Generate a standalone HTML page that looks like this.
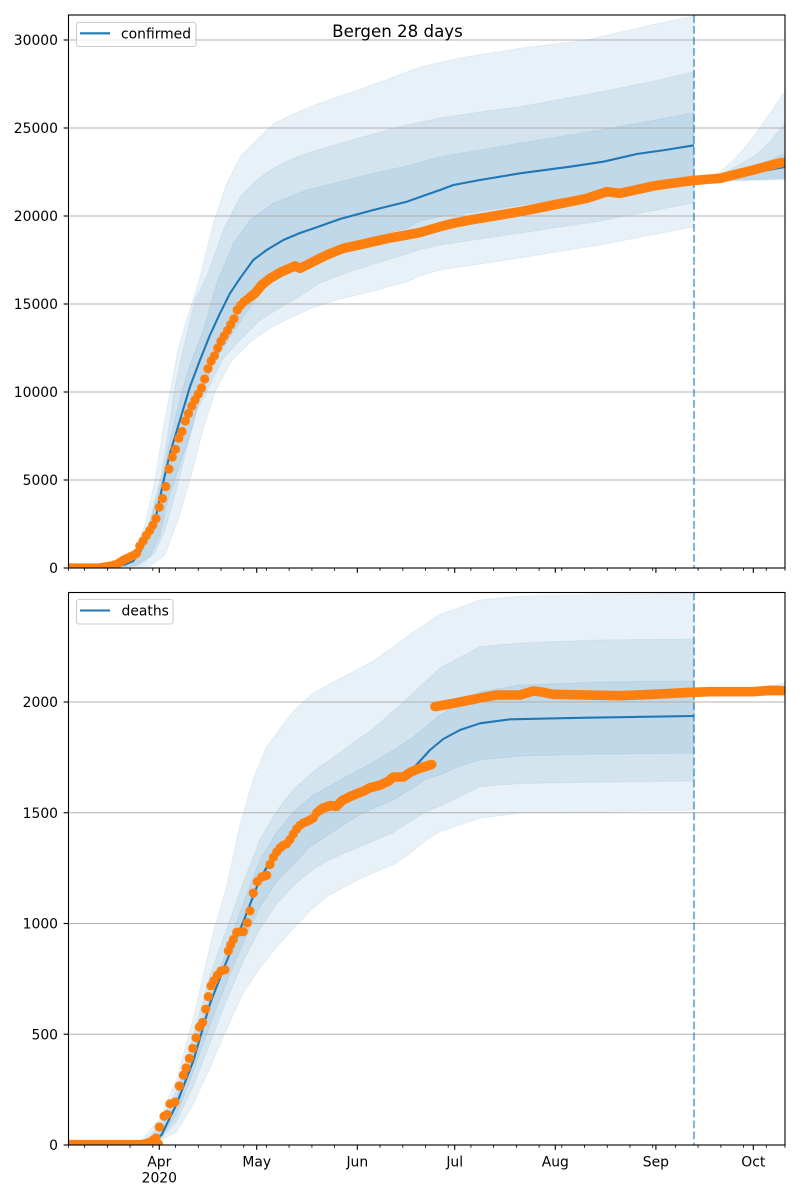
<!DOCTYPE html>
<html><head><meta charset="utf-8"><style>
html,body{margin:0;padding:0;background:#fff;}
svg{display:block;}
text{font-family:"DejaVu Sans","Liberation Sans",sans-serif;fill:#000;}
</style></head><body>
<svg width="800" height="1200" viewBox="0 0 800 1200" xmlns="http://www.w3.org/2000/svg">
<defs>
<clipPath id="ct"><rect x="68.5" y="15" width="716.5" height="553"/></clipPath>
<clipPath id="cb"><rect x="68.5" y="592.5" width="716.5" height="552.5"/></clipPath>
</defs>
<rect width="800" height="1200" fill="#fff"/>

<!-- ================= TOP ================= -->
<g clip-path="url(#ct)">
<g fill="#1f77b4" fill-opacity="0.1" stroke="#1f77b4" stroke-opacity="0.08" stroke-width="1">
<polygon points="100,568 115,566 125,561 135,550 145,525 155,480 163,430 170,392 178,350 185,325 193,300 200,276.7 213.3,223.3 226.7,183.3 240,156.7 256.7,140 273.3,124 290,115.5 313.3,105.5 340,96 356.7,90.5 380,82 420,67 460,58 520,48.3 586.7,40 653.3,24.5 694,16 694,226.7 600,245 500,261 440,270 420,276 406.7,282 373,291 340,299 312,308 292,317 272,327 253,340 232,360 215,392 203,430 190,480 178,520 165,555 150,566 110,568"/>
<polygon points="100,568 120,566 130,561 140,548 150,520 160,480 167,440 174,392 183,350 195,300 206.7,276.7 223.3,230 240,196.7 256.7,180 273.3,168.3 290,160 306.7,153.3 340,143.3 373.3,134 406.7,125 440,118 480,112 520,106.7 600,92 650,82 694,71.7 694,202.7 600,221 500,236 440,245 420,249.5 406.7,254 373.3,264 340,275 320,283 300,296 280,308 260,320 240,340 222,360 206.7,392 197,410 185,455 175,495 165,530 155,553 140,565 105,568"/>
<polygon points="100,568 125,565 135,558 145,540 155,505 162,480 170,440 181.7,392 190,365 203.3,330 216.7,283.3 233.3,243.3 250,220 273.3,203.3 306.7,190 340,181.7 373.3,173.3 406.7,166 440,157 480,150 520,143 600,130 650,121 694,112.7 694,175 600,193 500,208 440,216.7 420,221 406.7,228.3 373.3,236.7 340,246.7 306.7,258.3 290,266.7 273.3,278.3 256.7,296.7 252,304 240,322 228,340 215,360 201.7,392 190,435 178,470 168,500 160,535 150,556 135,566 100,568"/>
<polygon points="694,181 706.7,177 720,172 736.7,157 753.3,137 770,113 785,91 785,179.5 694,182"/>
<polygon points="694,181 720,175 753.3,157 770,142 785,123 785,179 694,181.5"/>
<polygon points="694,181 736.7,173.3 760,165 785,153 785,177.5 694,181.3"/>
</g>
<g stroke="#b0b0b0" stroke-width="1.1">
<line x1="68.5" x2="785" y1="40" y2="40"/>
<line x1="68.5" x2="785" y1="128" y2="128"/>
<line x1="68.5" x2="785" y1="216" y2="216"/>
<line x1="68.5" x2="785" y1="304" y2="304"/>
<line x1="68.5" x2="785" y1="392" y2="392"/>
<line x1="68.5" x2="785" y1="480" y2="480"/>
</g>
<polyline fill="none" stroke="#1f77b4" stroke-width="2.08" stroke-linejoin="round" points="68.5,568 100,567.8 115,566.5 125,564.5 133.3,561 140,552 148,535 156.7,513.3 163.3,482 170,453.3 180,420 190,386.7 200,360 210,335 220,313.3 230,293.3 240,278.3 253.3,260 266.7,250 283.3,240 300,233 313.3,228.5 340,219 373.3,210 406.7,201.7 420,197 440,190 453.3,185 480,180 520,173.3 570,166.7 603.3,161.7 636.7,154 665,150 694,145.3"/>
<polyline fill="none" stroke="#1f77b4" stroke-width="2.08" points="694,181 740,175 785,167"/>
<line x1="694" x2="694" y1="15" y2="568" stroke="#1f77b4" stroke-opacity="0.55" stroke-width="2.08" stroke-dasharray="7.7 3.3"/>
<g fill="#ff7f0e">
<polyline fill="none" stroke="#ff7f0e" stroke-width="9.2" stroke-linecap="round" stroke-linejoin="round" points="60,568 100,567.8 107.4,566.5 110.6,566"/>
<circle cx="113.9" cy="565" r="4.6"/><circle cx="117.1" cy="564" r="4.6"/><circle cx="120.4" cy="562" r="4.6"/><circle cx="123.6" cy="560" r="4.6"/><circle cx="126.8" cy="558.5" r="4.6"/><circle cx="130.1" cy="557" r="4.6"/><circle cx="133.3" cy="555.5" r="4.6"/><circle cx="136.6" cy="553.3" r="4.6"/><circle cx="139.8" cy="546" r="4.6"/><circle cx="143.1" cy="541" r="4.6"/><circle cx="146.3" cy="535.5" r="4.6"/><circle cx="149.6" cy="530.5" r="4.6"/><circle cx="152.8" cy="525.3" r="4.6"/><circle cx="156.1" cy="518.5" r="4.6"/><circle cx="159.3" cy="507.3" r="4.6"/><circle cx="162.5" cy="498.5" r="4.6"/><circle cx="165.8" cy="486.5" r="4.6"/><circle cx="169" cy="469" r="4.6"/><circle cx="172.3" cy="457" r="4.6"/><circle cx="175.5" cy="449.3" r="4.6"/><circle cx="178.8" cy="438.3" r="4.6"/><circle cx="182" cy="431.5" r="4.6"/><circle cx="185.3" cy="421" r="4.6"/><circle cx="188.5" cy="413.5" r="4.6"/><circle cx="191.8" cy="406" r="4.6"/><circle cx="195" cy="400" r="4.6"/><circle cx="198.3" cy="394" r="4.6"/><circle cx="201.5" cy="388" r="4.6"/><circle cx="204.7" cy="379" r="4.6"/><circle cx="208" cy="368.6" r="4.6"/><circle cx="211.2" cy="361" r="4.6"/><circle cx="214.5" cy="355.8" r="4.6"/><circle cx="217.7" cy="348" r="4.6"/><circle cx="221" cy="341.4" r="4.6"/><circle cx="224.2" cy="336" r="4.6"/><circle cx="227.5" cy="330.5" r="4.6"/><circle cx="230.7" cy="324.6" r="4.6"/><circle cx="234" cy="318.8" r="4.6"/><circle cx="237.2" cy="310" r="4.6"/><circle cx="240.5" cy="305.5" r="4.6"/><circle cx="243.7" cy="302" r="4.6"/><circle cx="246.9" cy="299.5" r="4.6"/><circle cx="250.2" cy="297" r="4.6"/>
<polyline fill="none" stroke="#ff7f0e" stroke-width="9.6" stroke-linecap="round" stroke-linejoin="round" points="250.2,297 255,293.3 261.7,285 270,278.3 281.7,271.7 295,266 300,268.3 313.3,261.7 326.7,255 343.3,248.3 363.3,244 373.3,241.7 390,238 406.7,235 420,232.5 440,226.7 453.3,223.3 470,220 486.7,217.3 503,214.5 520,211.7 536,208.5 553.3,205 570,201.8 586.7,198.3 600,194 606.7,191.7 613,192.5 620,193.3 636,189.8 653.3,186 672,183.3 691.7,180.7 705,179.5 720,178.3 737,174 753.3,170 766,166.5 778.3,163.3 782,162.5"/>
</g>
</g>
<!-- top spines / ticks -->
<g stroke="#000" stroke-width="1.1" fill="none">
<rect x="68.5" y="15" width="716.5" height="553"/>
<line x1="63.6" x2="68.5" y1="568" y2="568"/>
<line x1="63.6" x2="68.5" y1="480" y2="480"/>
<line x1="63.6" x2="68.5" y1="392" y2="392"/>
<line x1="63.6" x2="68.5" y1="304" y2="304"/>
<line x1="63.6" x2="68.5" y1="216" y2="216"/>
<line x1="63.6" x2="68.5" y1="128" y2="128"/>
<line x1="63.6" x2="68.5" y1="40" y2="40"/>
<path d="M159.3 568v4.9M256.7 568v4.9M357.3 568v4.9M454.7 568v4.9M555.3 568v4.9M655.9 568v4.9M753.3 568v4.9"/>
<path stroke-width="0.85" d="M68.5 568v2.8M84.6 568v2.8M107.4 568v2.8M130.1 568v2.8M152.8 568v2.8M175.5 568v2.8M198.3 568v2.8M221 568v2.8M243.7 568v2.8M266.4 568v2.8M289.1 568v2.8M311.9 568v2.8M334.6 568v2.8M380 568v2.8M402.8 568v2.8M425.5 568v2.8M448.2 568v2.8M470.9 568v2.8M493.6 568v2.8M516.4 568v2.8M539.1 568v2.8M561.8 568v2.8M584.5 568v2.8M607.3 568v2.8M630 568v2.8M652.7 568v2.8M675.4 568v2.8M698.1 568v2.8M720.9 568v2.8M743.6 568v2.8M766.3 568v2.8M785 568v2.8"/>
</g>
<g font-size="13.9" text-anchor="end">
<text x="58" y="573">0</text>
<text x="58" y="485">5000</text>
<text x="58" y="397">10000</text>
<text x="58" y="309">15000</text>
<text x="58" y="221">20000</text>
<text x="58" y="133">25000</text>
<text x="58" y="45">30000</text>
</g>
<!-- top legend -->
<rect x="76.5" y="22.5" width="119.5" height="24" rx="2.5" fill="#fff" fill-opacity="0.8" stroke="#cccccc" stroke-width="1.1"/>
<line x1="80" x2="110" y1="33.3" y2="33.3" stroke="#1f77b4" stroke-width="2.08"/>
<text x="121" y="38.3" font-size="13.9">confirmed</text>
<text x="397.5" y="37" font-size="16.67" text-anchor="middle">Bergen 28 days</text>

<!-- ================= BOTTOM ================= -->
<g clip-path="url(#cb)">
<g fill="#1f77b4" fill-opacity="0.1" stroke="#1f77b4" stroke-opacity="0.08" stroke-width="1">
<polygon points="68.5,1145 120,1145 140,1142.5 160,1118 176.7,1078.8 193.3,1018 203.3,975 213.3,932 226.7,886 240,825 253.3,778.8 266.7,746.6 280,728.8 293.3,711 313.3,693 333.3,682 353.3,671.6 373.3,661 393.3,646.6 413.3,632 440,614.5 480,600 520,596 600,594.5 694,593.3 694,810.3 600,811.5 520,813 480,818.3 440,831.7 426.7,839.5 410,853.8 393.3,864.5 376.7,871.6 360,878.8 343.3,887.7 326.7,896.6 310,911 293.3,928.8 276.7,946.6 260,968 243.3,993 226.7,1028.8 210,1068 193.3,1103.8 176.7,1132 160,1141 140,1145"/>
<polygon points="125,1145 145,1141 160,1125 176.7,1089.5 193.3,1036 210,975 226.7,928.8 243.3,882.4 260,839.5 276.7,811 293.3,789.5 313.3,771.6 333.3,757.4 353.3,743 373.3,728.8 393.3,711 413.3,693 440,668 480,646.7 520,643 600,640 694,639 694,781 600,782 520,783.5 480,786.7 440,806 426.7,811 410,821.6 393.3,832.4 376.7,839.5 360,846.6 343.3,853.8 326.7,861 310,871.6 293.3,886 276.7,903.8 260,928.8 243.3,961 226.7,1000 210,1043 193.3,1086 176.7,1121.6 160,1139.5 150,1144 135,1145"/>
<polygon points="130,1145 148,1141 160,1132 176.7,1096.6 193.3,1050 210,997 226.7,950 243.3,903 260,860 276.7,832 293.3,812 313.3,795 333.3,784 353.3,773 373.3,762 393.3,750 413.3,737 440,715 480,691.7 520,685 600,682 694,681 694,753.3 600,754 520,756 480,760 460,766 440,775 426.7,779 410,789.5 393.3,800 376.7,807 360,814.5 343.3,825 326.7,836 310,846.6 293.3,864.5 276.7,882 260,907 243.3,943 226.7,982 210,1025 193.3,1071.6 176.7,1114.5 160,1139 150,1143 135,1145"/>
<polygon points="694,692 740,691 770,687 785,682 785,696 694,694"/>
<polygon points="694,692 785,687.5 785,695 694,693"/>
</g>
<g stroke="#b0b0b0" stroke-width="1.1">
<line x1="68.5" x2="785" y1="702" y2="702"/>
<line x1="68.5" x2="785" y1="812.75" y2="812.75"/>
<line x1="68.5" x2="785" y1="923.5" y2="923.5"/>
<line x1="68.5" x2="785" y1="1034.25" y2="1034.25"/>
</g>
<polyline fill="none" stroke="#1f77b4" stroke-width="2.08" stroke-linejoin="round" points="68.5,1145 130,1145 140,1144 145,1143 150,1141 155,1139 161.5,1135 176.7,1103.8 193.3,1060.9 210,1003.8 226.7,961 243.3,921.6 260,878.8 276.7,850.2 293.3,832.4 310,818 326.7,809 343.3,800 360,791 376.7,786 393.3,778.8 410,771.6 420,761 430,750 443.3,739 460,730 480,723.3 510,719.3 586.7,717.7 694,716"/>
<polyline fill="none" stroke="#1f77b4" stroke-width="2.08" points="694,693 785,690.5"/>
<line x1="694" x2="694" y1="592.5" y2="1145" stroke="#1f77b4" stroke-opacity="0.55" stroke-width="2.08" stroke-dasharray="7.7 3.3"/>
<g fill="#ff7f0e">
<polyline fill="none" stroke="#ff7f0e" stroke-width="9.2" stroke-linecap="round" stroke-linejoin="round" points="60,1144.5 140,1144.5 145,1144"/>
<circle cx="147" cy="1143" r="4.6"/><circle cx="150.5" cy="1142" r="4.6"/><circle cx="153.5" cy="1140" r="4.6"/><circle cx="156" cy="1138" r="4.6"/><circle cx="158.5" cy="1144" r="4.6"/><circle cx="159.3" cy="1127" r="4.6"/><circle cx="164" cy="1116.3" r="4.6"/><circle cx="167.3" cy="1114.5" r="4.6"/><circle cx="170" cy="1103.8" r="4.6"/><circle cx="175" cy="1102" r="4.6"/><circle cx="179.3" cy="1086" r="4.6"/><circle cx="183.3" cy="1075.2" r="4.6"/><circle cx="186" cy="1068" r="4.6"/><circle cx="189.3" cy="1058.4" r="4.6"/><circle cx="192.7" cy="1048.4" r="4.6"/><circle cx="196" cy="1037.7" r="4.6"/><circle cx="199.3" cy="1027" r="4.6"/><circle cx="202.7" cy="1022.4" r="4.6"/><circle cx="205.7" cy="1009.1" r="4.6"/><circle cx="208.3" cy="996.6" r="4.6"/><circle cx="211" cy="985.9" r="4.6"/><circle cx="214" cy="980.6" r="4.6"/><circle cx="217.3" cy="975.2" r="4.6"/><circle cx="221" cy="970.9" r="4.6"/><circle cx="225" cy="969.9" r="4.6"/><circle cx="228.3" cy="950.9" r="4.6"/><circle cx="230.7" cy="944.9" r="4.6"/><circle cx="233.3" cy="939.5" r="4.6"/><circle cx="236.7" cy="932.4" r="4.6"/><circle cx="240" cy="931.8" r="4.6"/><circle cx="243.3" cy="931.6" r="4.6"/><circle cx="247.3" cy="922.7" r="4.6"/><circle cx="250" cy="910.9" r="4.6"/><circle cx="253.3" cy="893.1" r="4.6"/><circle cx="257.3" cy="881.6" r="4.6"/><circle cx="261.7" cy="877" r="4.6"/><circle cx="264.5" cy="876" r="4.6"/><circle cx="266.7" cy="875.2" r="4.6"/><circle cx="270" cy="864.5" r="4.6"/><circle cx="273.3" cy="857.4" r="4.6"/><circle cx="276.7" cy="852" r="4.6"/><circle cx="280" cy="848" r="4.6"/><circle cx="283" cy="845.5" r="4.6"/><circle cx="286.7" cy="843.8" r="4.6"/><circle cx="290" cy="839.5" r="4.6"/><circle cx="293.3" cy="834.1" r="4.6"/><circle cx="296.7" cy="829" r="4.6"/><circle cx="300" cy="825.2" r="4.6"/><circle cx="303.3" cy="823" r="4.6"/><circle cx="306.7" cy="821.6" r="4.6"/><circle cx="310" cy="820" r="4.6"/><circle cx="313.3" cy="818" r="4.6"/><circle cx="316.7" cy="812.7" r="4.6"/><circle cx="320" cy="810" r="4.6"/>
<polyline fill="none" stroke="#ff7f0e" stroke-width="9.6" stroke-linecap="round" stroke-linejoin="round" points="320,810 323.3,808 330,805.6 336.7,806.3 341.7,800.9 350,796.6 356.7,793.8 363.3,791.3 370,787.7 380,785.2 388.3,781.3 393.3,777 403.3,777 410,772.4 420,768.1 431.7,764.5"/>
<polyline fill="none" stroke="#ff7f0e" stroke-width="9.6" stroke-linecap="round" stroke-linejoin="round" points="435,706.6 453.3,703.3 470,700 486.7,696.7 496.7,695 520,695 530,692 533.3,691 543.3,692.3 553.3,694.3 586.7,695 620,695.7 653.3,694.3 691.7,692.3 710,691.7 753.3,691.7 770,690.3 782,690.5"/>
</g>
</g>
<g stroke="#000" stroke-width="1.1" fill="none">
<rect x="68.5" y="592.5" width="716.5" height="552.5"/>
<line x1="63.6" x2="68.5" y1="1145" y2="1145"/>
<line x1="63.6" x2="68.5" y1="1034.25" y2="1034.25"/>
<line x1="63.6" x2="68.5" y1="923.5" y2="923.5"/>
<line x1="63.6" x2="68.5" y1="812.75" y2="812.75"/>
<line x1="63.6" x2="68.5" y1="702" y2="702"/>
<path d="M159.3 1145v4.9M256.7 1145v4.9M357.3 1145v4.9M454.7 1145v4.9M555.3 1145v4.9M655.9 1145v4.9M753.3 1145v4.9"/>
<path stroke-width="0.85" d="M68.5 1145v2.8M84.6 1145v2.8M107.4 1145v2.8M130.1 1145v2.8M152.8 1145v2.8M175.5 1145v2.8M198.3 1145v2.8M221 1145v2.8M243.7 1145v2.8M266.4 1145v2.8M289.1 1145v2.8M311.9 1145v2.8M334.6 1145v2.8M380 1145v2.8M402.8 1145v2.8M425.5 1145v2.8M448.2 1145v2.8M470.9 1145v2.8M493.6 1145v2.8M516.4 1145v2.8M539.1 1145v2.8M561.8 1145v2.8M584.5 1145v2.8M607.3 1145v2.8M630 1145v2.8M652.7 1145v2.8M675.4 1145v2.8M698.1 1145v2.8M720.9 1145v2.8M743.6 1145v2.8M766.3 1145v2.8M785 1145v2.8"/>
</g>
<g font-size="13.9" text-anchor="end">
<text x="58" y="1150">0</text>
<text x="58" y="1039.25">500</text>
<text x="58" y="928.5">1000</text>
<text x="58" y="817.75">1500</text>
<text x="58" y="707">2000</text>
</g>
<g font-size="13.9" text-anchor="middle">
<text x="159.3" y="1166.5">Apr</text>
<text x="159.3" y="1182.5">2020</text>
<text x="256.7" y="1166.5">May</text>
<text x="357.3" y="1166.5">Jun</text>
<text x="454.7" y="1166.5">Jul</text>
<text x="555.3" y="1166.5">Aug</text>
<text x="655.9" y="1166.5">Sep</text>
<text x="753.3" y="1166.5">Oct</text>
</g>
<rect x="76.5" y="599.5" width="96.5" height="24.5" rx="2.5" fill="#fff" fill-opacity="0.8" stroke="#cccccc" stroke-width="1.1"/>
<line x1="80" x2="110" y1="610.5" y2="610.5" stroke="#1f77b4" stroke-width="2.08"/>
<text x="121.5" y="615.5" font-size="13.9">deaths</text>
</svg>
</body></html>
